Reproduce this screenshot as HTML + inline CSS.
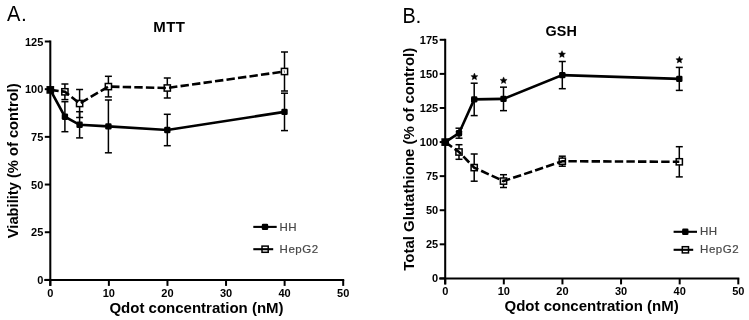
<!DOCTYPE html>
<html><head><meta charset="utf-8"><style>
html,body{margin:0;padding:0;background:#fff;}
body{width:749px;height:320px;overflow:hidden;}
svg{display:block;filter:blur(0.35px);}
text{font-family:"Liberation Sans",sans-serif;fill:#000;}
.tk{font-size:11px;font-weight:bold;}
.ti{font-size:15px;font-weight:bold;}
.ax{font-size:15px;font-weight:bold;}
.lg{font-size:11.5px;fill:#484848;stroke:#484848;stroke-width:0.2px;letter-spacing:0.5px;}
.pl{font-size:21px;}
.star{font-size:15px;font-weight:bold;}
</style></head><body>
<svg width="749" height="320" viewBox="0 0 749 320">
<line x1="50.3" y1="40.5" x2="50.3" y2="285.9" stroke="#000" stroke-width="2.05"/><line x1="44.3" y1="279.9" x2="344.2" y2="279.9" stroke="#000" stroke-width="2.05"/><line x1="44.8" y1="279.90" x2="50.3" y2="279.90" stroke="#000" stroke-width="2"/><text x="43.3" y="283.90" text-anchor="end" class="tk">0</text><line x1="44.8" y1="232.22" x2="50.3" y2="232.22" stroke="#000" stroke-width="2"/><text x="43.3" y="236.22" text-anchor="end" class="tk">25</text><line x1="44.8" y1="184.54" x2="50.3" y2="184.54" stroke="#000" stroke-width="2"/><text x="43.3" y="188.54" text-anchor="end" class="tk">50</text><line x1="44.8" y1="136.86" x2="50.3" y2="136.86" stroke="#000" stroke-width="2"/><text x="43.3" y="140.86" text-anchor="end" class="tk">75</text><line x1="44.8" y1="89.18" x2="50.3" y2="89.18" stroke="#000" stroke-width="2"/><text x="43.3" y="93.18" text-anchor="end" class="tk">100</text><line x1="44.8" y1="41.50" x2="50.3" y2="41.50" stroke="#000" stroke-width="2"/><text x="43.3" y="45.50" text-anchor="end" class="tk">125</text><line x1="50.30" y1="279.9" x2="50.30" y2="285.9" stroke="#000" stroke-width="2"/><text x="50.30" y="296.90" text-anchor="middle" class="tk">0</text><line x1="108.88" y1="279.9" x2="108.88" y2="285.9" stroke="#000" stroke-width="2"/><text x="108.88" y="296.90" text-anchor="middle" class="tk">10</text><line x1="167.46" y1="279.9" x2="167.46" y2="285.9" stroke="#000" stroke-width="2"/><text x="167.46" y="296.90" text-anchor="middle" class="tk">20</text><line x1="226.04" y1="279.9" x2="226.04" y2="285.9" stroke="#000" stroke-width="2"/><text x="226.04" y="296.90" text-anchor="middle" class="tk">30</text><line x1="284.62" y1="279.9" x2="284.62" y2="285.9" stroke="#000" stroke-width="2"/><text x="284.62" y="296.90" text-anchor="middle" class="tk">40</text><line x1="343.20" y1="279.9" x2="343.20" y2="285.9" stroke="#000" stroke-width="2"/><text x="343.20" y="296.90" text-anchor="middle" class="tk">50</text><line x1="445.2" y1="38.8" x2="445.2" y2="284.4" stroke="#000" stroke-width="2.05"/><line x1="439.2" y1="278.4" x2="739.3" y2="278.4" stroke="#000" stroke-width="2.05"/><line x1="439.7" y1="278.40" x2="445.2" y2="278.40" stroke="#000" stroke-width="2"/><text x="438.2" y="282.40" text-anchor="end" class="tk">0</text><line x1="439.7" y1="244.31" x2="445.2" y2="244.31" stroke="#000" stroke-width="2"/><text x="438.2" y="248.31" text-anchor="end" class="tk">25</text><line x1="439.7" y1="210.23" x2="445.2" y2="210.23" stroke="#000" stroke-width="2"/><text x="438.2" y="214.23" text-anchor="end" class="tk">50</text><line x1="439.7" y1="176.14" x2="445.2" y2="176.14" stroke="#000" stroke-width="2"/><text x="438.2" y="180.14" text-anchor="end" class="tk">75</text><line x1="439.7" y1="142.06" x2="445.2" y2="142.06" stroke="#000" stroke-width="2"/><text x="438.2" y="146.06" text-anchor="end" class="tk">100</text><line x1="439.7" y1="107.97" x2="445.2" y2="107.97" stroke="#000" stroke-width="2"/><text x="438.2" y="111.97" text-anchor="end" class="tk">125</text><line x1="439.7" y1="73.89" x2="445.2" y2="73.89" stroke="#000" stroke-width="2"/><text x="438.2" y="77.89" text-anchor="end" class="tk">150</text><line x1="439.7" y1="39.80" x2="445.2" y2="39.80" stroke="#000" stroke-width="2"/><text x="438.2" y="43.80" text-anchor="end" class="tk">175</text><line x1="445.20" y1="278.4" x2="445.20" y2="284.4" stroke="#000" stroke-width="2"/><text x="445.20" y="295.40" text-anchor="middle" class="tk">0</text><line x1="503.82" y1="278.4" x2="503.82" y2="284.4" stroke="#000" stroke-width="2"/><text x="503.82" y="295.40" text-anchor="middle" class="tk">10</text><line x1="562.44" y1="278.4" x2="562.44" y2="284.4" stroke="#000" stroke-width="2"/><text x="562.44" y="295.40" text-anchor="middle" class="tk">20</text><line x1="621.06" y1="278.4" x2="621.06" y2="284.4" stroke="#000" stroke-width="2"/><text x="621.06" y="295.40" text-anchor="middle" class="tk">30</text><line x1="679.68" y1="278.4" x2="679.68" y2="284.4" stroke="#000" stroke-width="2"/><text x="679.68" y="295.40" text-anchor="middle" class="tk">40</text><line x1="738.30" y1="278.4" x2="738.30" y2="284.4" stroke="#000" stroke-width="2"/><text x="738.30" y="295.40" text-anchor="middle" class="tk">50</text><polyline points="50.3,89.9 64.9,91.8 79.6,103.5 108.4,86.6 167.3,88 284.5,71.5" fill="none" stroke="#000" stroke-width="2.6" stroke-dasharray="8.4 3.2"/><line x1="64.9" y1="84.00" x2="64.9" y2="88.70" stroke="#000" stroke-width="1.5"/><line x1="64.9" y1="94.90" x2="64.9" y2="99.60" stroke="#000" stroke-width="1.5"/><line x1="61.40" y1="84.00" x2="68.40" y2="84.00" stroke="#000" stroke-width="1.5"/><line x1="61.40" y1="99.60" x2="68.40" y2="99.60" stroke="#000" stroke-width="1.5"/><line x1="79.6" y1="89.50" x2="79.6" y2="100.40" stroke="#000" stroke-width="1.5"/><line x1="79.6" y1="106.60" x2="79.6" y2="117.50" stroke="#000" stroke-width="1.5"/><line x1="76.10" y1="89.50" x2="83.10" y2="89.50" stroke="#000" stroke-width="1.5"/><line x1="76.10" y1="117.50" x2="83.10" y2="117.50" stroke="#000" stroke-width="1.5"/><line x1="108.4" y1="76.30" x2="108.4" y2="83.50" stroke="#000" stroke-width="1.5"/><line x1="108.4" y1="89.70" x2="108.4" y2="96.90" stroke="#000" stroke-width="1.5"/><line x1="104.90" y1="76.30" x2="111.90" y2="76.30" stroke="#000" stroke-width="1.5"/><line x1="104.90" y1="96.90" x2="111.90" y2="96.90" stroke="#000" stroke-width="1.5"/><line x1="167.3" y1="78.00" x2="167.3" y2="84.90" stroke="#000" stroke-width="1.5"/><line x1="167.3" y1="91.10" x2="167.3" y2="98.00" stroke="#000" stroke-width="1.5"/><line x1="163.80" y1="78.00" x2="170.80" y2="78.00" stroke="#000" stroke-width="1.5"/><line x1="163.80" y1="98.00" x2="170.80" y2="98.00" stroke="#000" stroke-width="1.5"/><line x1="284.5" y1="52.00" x2="284.5" y2="68.40" stroke="#000" stroke-width="1.5"/><line x1="284.5" y1="74.60" x2="284.5" y2="91.00" stroke="#000" stroke-width="1.5"/><line x1="281.00" y1="52.00" x2="288.00" y2="52.00" stroke="#000" stroke-width="1.5"/><line x1="281.00" y1="91.00" x2="288.00" y2="91.00" stroke="#000" stroke-width="1.5"/><rect x="47.20" y="86.80" width="6.2" height="6.2" fill="none" stroke="#000" stroke-width="1.5"/><rect x="61.80" y="88.70" width="6.2" height="6.2" fill="none" stroke="#000" stroke-width="1.5"/><rect x="76.50" y="100.40" width="6.2" height="6.2" fill="none" stroke="#000" stroke-width="1.5"/><rect x="105.30" y="83.50" width="6.2" height="6.2" fill="none" stroke="#000" stroke-width="1.5"/><rect x="164.20" y="84.90" width="6.2" height="6.2" fill="none" stroke="#000" stroke-width="1.5"/><rect x="281.40" y="68.40" width="6.2" height="6.2" fill="none" stroke="#000" stroke-width="1.5"/><polyline points="50.3,89.9 64.9,116.7 79.6,124.8 108.4,126.4 167.3,130 284.5,111.9" fill="none" stroke="#000" stroke-width="2.6"/><line x1="64.9" y1="101.70" x2="64.9" y2="131.70" stroke="#000" stroke-width="1.5"/><line x1="61.40" y1="101.70" x2="68.40" y2="101.70" stroke="#000" stroke-width="1.5"/><line x1="61.40" y1="131.70" x2="68.40" y2="131.70" stroke="#000" stroke-width="1.5"/><line x1="79.6" y1="111.70" x2="79.6" y2="137.90" stroke="#000" stroke-width="1.5"/><line x1="76.10" y1="111.70" x2="83.10" y2="111.70" stroke="#000" stroke-width="1.5"/><line x1="76.10" y1="137.90" x2="83.10" y2="137.90" stroke="#000" stroke-width="1.5"/><line x1="108.4" y1="100.00" x2="108.4" y2="152.80" stroke="#000" stroke-width="1.5"/><line x1="104.90" y1="100.00" x2="111.90" y2="100.00" stroke="#000" stroke-width="1.5"/><line x1="104.90" y1="152.80" x2="111.90" y2="152.80" stroke="#000" stroke-width="1.5"/><line x1="167.3" y1="114.30" x2="167.3" y2="145.70" stroke="#000" stroke-width="1.5"/><line x1="163.80" y1="114.30" x2="170.80" y2="114.30" stroke="#000" stroke-width="1.5"/><line x1="163.80" y1="145.70" x2="170.80" y2="145.70" stroke="#000" stroke-width="1.5"/><line x1="284.5" y1="93.20" x2="284.5" y2="130.60" stroke="#000" stroke-width="1.5"/><line x1="281.00" y1="93.20" x2="288.00" y2="93.20" stroke="#000" stroke-width="1.5"/><line x1="281.00" y1="130.60" x2="288.00" y2="130.60" stroke="#000" stroke-width="1.5"/><rect x="47.10" y="86.70" width="6.4" height="6.4" rx="1.3" fill="#000"/><rect x="61.70" y="113.50" width="6.4" height="6.4" rx="1.3" fill="#000"/><rect x="76.40" y="121.60" width="6.4" height="6.4" rx="1.3" fill="#000"/><rect x="105.20" y="123.20" width="6.4" height="6.4" rx="1.3" fill="#000"/><rect x="164.10" y="126.80" width="6.4" height="6.4" rx="1.3" fill="#000"/><rect x="281.30" y="108.70" width="6.4" height="6.4" rx="1.3" fill="#000"/><polyline points="445.2,142.1 459.0,152 474.2,167.6 503.5,181.1 562.3,161.2 679.3,161.8" fill="none" stroke="#000" stroke-width="2.6" stroke-dasharray="8.4 3.2"/><line x1="459.0" y1="144.70" x2="459.0" y2="148.90" stroke="#000" stroke-width="1.5"/><line x1="459.0" y1="155.10" x2="459.0" y2="159.30" stroke="#000" stroke-width="1.5"/><line x1="455.50" y1="144.70" x2="462.50" y2="144.70" stroke="#000" stroke-width="1.5"/><line x1="455.50" y1="159.30" x2="462.50" y2="159.30" stroke="#000" stroke-width="1.5"/><line x1="474.2" y1="154.00" x2="474.2" y2="164.50" stroke="#000" stroke-width="1.5"/><line x1="474.2" y1="170.70" x2="474.2" y2="181.20" stroke="#000" stroke-width="1.5"/><line x1="470.70" y1="154.00" x2="477.70" y2="154.00" stroke="#000" stroke-width="1.5"/><line x1="470.70" y1="181.20" x2="477.70" y2="181.20" stroke="#000" stroke-width="1.5"/><line x1="503.5" y1="174.70" x2="503.5" y2="178.00" stroke="#000" stroke-width="1.5"/><line x1="503.5" y1="184.20" x2="503.5" y2="187.50" stroke="#000" stroke-width="1.5"/><line x1="500.00" y1="174.70" x2="507.00" y2="174.70" stroke="#000" stroke-width="1.5"/><line x1="500.00" y1="187.50" x2="507.00" y2="187.50" stroke="#000" stroke-width="1.5"/><line x1="562.3" y1="156.20" x2="562.3" y2="158.10" stroke="#000" stroke-width="1.5"/><line x1="562.3" y1="164.30" x2="562.3" y2="166.20" stroke="#000" stroke-width="1.5"/><line x1="558.80" y1="156.20" x2="565.80" y2="156.20" stroke="#000" stroke-width="1.5"/><line x1="558.80" y1="166.20" x2="565.80" y2="166.20" stroke="#000" stroke-width="1.5"/><line x1="679.3" y1="146.70" x2="679.3" y2="158.70" stroke="#000" stroke-width="1.5"/><line x1="679.3" y1="164.90" x2="679.3" y2="176.90" stroke="#000" stroke-width="1.5"/><line x1="675.80" y1="146.70" x2="682.80" y2="146.70" stroke="#000" stroke-width="1.5"/><line x1="675.80" y1="176.90" x2="682.80" y2="176.90" stroke="#000" stroke-width="1.5"/><rect x="442.10" y="139.00" width="6.2" height="6.2" fill="none" stroke="#000" stroke-width="1.5"/><rect x="455.90" y="148.90" width="6.2" height="6.2" fill="none" stroke="#000" stroke-width="1.5"/><rect x="471.10" y="164.50" width="6.2" height="6.2" fill="none" stroke="#000" stroke-width="1.5"/><rect x="500.40" y="178.00" width="6.2" height="6.2" fill="none" stroke="#000" stroke-width="1.5"/><rect x="559.20" y="158.10" width="6.2" height="6.2" fill="none" stroke="#000" stroke-width="1.5"/><rect x="676.20" y="158.70" width="6.2" height="6.2" fill="none" stroke="#000" stroke-width="1.5"/><polyline points="445.2,142.1 459.0,133.2 474.2,99.4 503.5,98.9 562.3,75.1 679.3,78.9" fill="none" stroke="#000" stroke-width="2.6"/><line x1="459.0" y1="128.20" x2="459.0" y2="138.20" stroke="#000" stroke-width="1.5"/><line x1="455.50" y1="128.20" x2="462.50" y2="128.20" stroke="#000" stroke-width="1.5"/><line x1="455.50" y1="138.20" x2="462.50" y2="138.20" stroke="#000" stroke-width="1.5"/><line x1="474.2" y1="83.20" x2="474.2" y2="115.60" stroke="#000" stroke-width="1.5"/><line x1="470.70" y1="83.20" x2="477.70" y2="83.20" stroke="#000" stroke-width="1.5"/><line x1="470.70" y1="115.60" x2="477.70" y2="115.60" stroke="#000" stroke-width="1.5"/><line x1="503.5" y1="87.15" x2="503.5" y2="110.65" stroke="#000" stroke-width="1.5"/><line x1="500.00" y1="87.15" x2="507.00" y2="87.15" stroke="#000" stroke-width="1.5"/><line x1="500.00" y1="110.65" x2="507.00" y2="110.65" stroke="#000" stroke-width="1.5"/><line x1="562.3" y1="61.50" x2="562.3" y2="88.70" stroke="#000" stroke-width="1.5"/><line x1="558.80" y1="61.50" x2="565.80" y2="61.50" stroke="#000" stroke-width="1.5"/><line x1="558.80" y1="88.70" x2="565.80" y2="88.70" stroke="#000" stroke-width="1.5"/><line x1="679.3" y1="67.40" x2="679.3" y2="90.40" stroke="#000" stroke-width="1.5"/><line x1="675.80" y1="67.40" x2="682.80" y2="67.40" stroke="#000" stroke-width="1.5"/><line x1="675.80" y1="90.40" x2="682.80" y2="90.40" stroke="#000" stroke-width="1.5"/><rect x="442.00" y="138.90" width="6.4" height="6.4" rx="1.3" fill="#000"/><rect x="455.80" y="130.00" width="6.4" height="6.4" rx="1.3" fill="#000"/><rect x="471.00" y="96.20" width="6.4" height="6.4" rx="1.3" fill="#000"/><rect x="500.30" y="95.70" width="6.4" height="6.4" rx="1.3" fill="#000"/><rect x="559.10" y="71.90" width="6.4" height="6.4" rx="1.3" fill="#000"/><rect x="676.10" y="75.70" width="6.4" height="6.4" rx="1.3" fill="#000"/><polygon points="474.40,73.10 475.43,75.38 477.92,75.66 476.06,77.34 476.57,79.79 474.40,78.55 472.23,79.79 472.74,77.34 470.88,75.66 473.37,75.38" fill="#000" stroke="#000" stroke-width="0.4" stroke-linejoin="round"/><polygon points="503.60,76.90 504.63,79.18 507.12,79.46 505.26,81.14 505.77,83.59 503.60,82.35 501.43,83.59 501.94,81.14 500.08,79.46 502.57,79.18" fill="#000" stroke="#000" stroke-width="0.4" stroke-linejoin="round"/><polygon points="562.00,50.70 563.03,52.98 565.52,53.26 563.66,54.94 564.17,57.39 562.00,56.15 559.83,57.39 560.34,54.94 558.48,53.26 560.97,52.98" fill="#000" stroke="#000" stroke-width="0.4" stroke-linejoin="round"/><polygon points="679.40,56.30 680.43,58.58 682.92,58.86 681.06,60.54 681.57,62.99 679.40,61.75 677.23,62.99 677.74,60.54 675.88,58.86 678.37,58.58" fill="#000" stroke="#000" stroke-width="0.4" stroke-linejoin="round"/><line x1="253.3" y1="226.9" x2="276.7" y2="226.9" stroke="#000" stroke-width="2.1"/><rect x="261.80" y="223.70" width="6.4" height="6.4" rx="1.3" fill="#000"/><text x="279.4" y="231.0" class="lg">HH</text><line x1="253.3" y1="249.2" x2="273.2" y2="249.2" stroke="#000" stroke-width="2.1"/><rect x="262.00" y="246.10" width="6.2" height="6.2" fill="none" stroke="#000" stroke-width="1.5"/><text x="279.6" y="253.0" class="lg">HepG2</text><line x1="673.6" y1="231.8" x2="697" y2="231.8" stroke="#000" stroke-width="2.1"/><rect x="682.10" y="228.60" width="6.4" height="6.4" rx="1.3" fill="#000"/><text x="700.0" y="235.2" class="lg">HH</text><line x1="673.6" y1="249.8" x2="693.2" y2="249.8" stroke="#000" stroke-width="2.1"/><rect x="682.30" y="246.70" width="6.2" height="6.2" fill="none" stroke="#000" stroke-width="1.5"/><text x="700.1" y="253.3" class="lg">HepG2</text><text x="169.3" y="32.3" text-anchor="middle" class="ti" letter-spacing="0.4">MTT</text><text x="561.2" y="35.6" text-anchor="middle" class="ti" style="font-size:14.4px">GSH</text><text x="196.5" y="312.8" text-anchor="middle" class="ax">Qdot concentration (nM)</text><text x="591.6" y="310.9" text-anchor="middle" class="ax">Qdot concentration (nM)</text><text transform="translate(17.6,160.8) rotate(-90)" text-anchor="middle" class="ax" style="font-size:14.7px">Viability (% of control)</text><text transform="translate(414.2,159.3) rotate(-90)" text-anchor="middle" class="ax">Total Glutathione (% of control)</text><text x="6.9" y="21.1" class="pl" style="font-size:22px" textLength="13.4" lengthAdjust="spacingAndGlyphs">A</text><text x="21.0" y="21.1" class="pl">.</text><text x="402.4" y="23.3" class="pl" style="font-size:21.5px" textLength="13.2" lengthAdjust="spacingAndGlyphs">B</text><text x="415.4" y="23.3" class="pl">.</text>
</svg>
</body></html>
